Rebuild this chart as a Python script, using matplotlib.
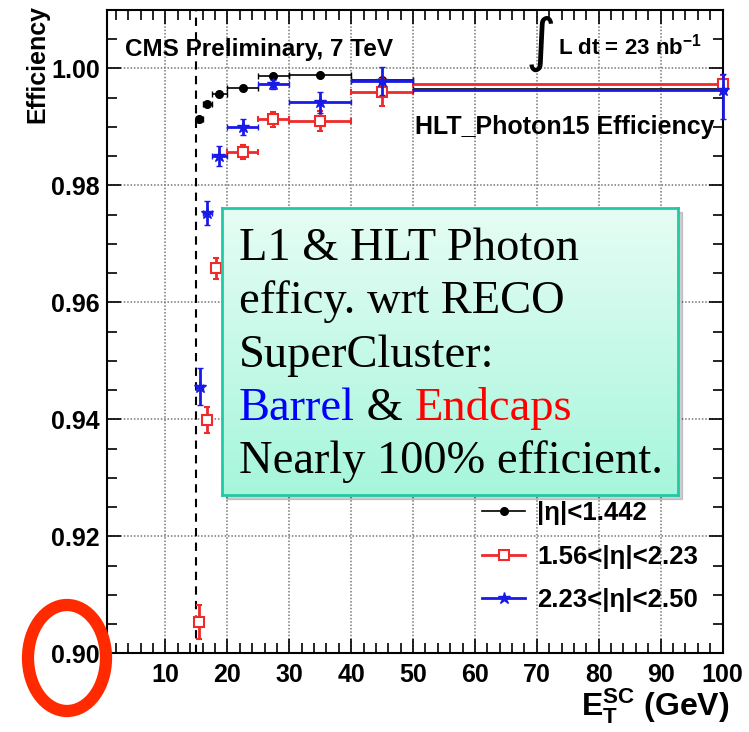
import numpy as np
import matplotlib
import matplotlib.pyplot as plt
from matplotlib.lines import Line2D
from matplotlib.patches import Ellipse, Rectangle
from matplotlib.colors import LinearSegmentedColormap

plt.rcParams['font.family'] = ['Liberation Sans', 'DejaVu Sans']
plt.rcParams['font.weight'] = 'bold'
plt.rcParams['mathtext.fontset'] = 'custom'
plt.rcParams['mathtext.rm'] = 'Liberation Sans:bold'
plt.rcParams['mathtext.it'] = 'Liberation Sans:bold'
plt.rcParams['mathtext.bf'] = 'Liberation Sans:bold'

# bins in E_T^SC (GeV)
bin_lo = [15, 16, 17.5, 20, 25, 30, 40, 50]
bin_hi = [16, 17.5, 20, 25, 30, 40, 50, 150]

# |eta| < 1.442
x_eb = [15.4, 16.7, 18.6, 22.5, 27.4, 34.9, 45.0, 100.0]
eff_eb = [0.9913, 0.9940, 0.9957, 0.9966, 0.9987, 0.9988, 0.9980, 0.9965]
err_eb = [0.0004, 0.0003, 0.0003, 0.0002, 0.0002, 0.0002, 0.0002, 0.0002]

# 1.56 < |eta| < 2.23
x_ee1 = [15.4, 16.7, 18.1, 22.5, 27.4, 34.9, 45.0, 100.0]
eff_ee1 = [0.9053, 0.9399, 0.9658, 0.9857, 0.9913, 0.9910, 0.9959, 0.9973]
err_ee1 = [0.0029, 0.0022, 0.0018, 0.0012, 0.0013, 0.0017, 0.0023, 0.0015]

# 2.23 < |eta| < 2.50
x_ee2 = [15.5, 16.7, 18.6, 22.5, 27.4, 34.9, 45.0, 100.0]
eff_ee2 = [0.9456, 0.9753, 0.9850, 0.9900, 0.9973, 0.9942, 0.9979, 0.9964]
err_ee2_lo = [0.0032, 0.0021, 0.0017, 0.0014, 0.0008, 0.0018, 0.0024, 0.0051]
err_ee2_hi = [0.0032, 0.0021, 0.0017, 0.0014, 0.0008, 0.0018, 0.0024, 0.0026]

labels = ['|η|<1.442', '1.56<|η|<2.23', '2.23<|η|<2.50']

W, H = 749, 732
def fx(px): return px / W
def fy(py): return 1 - py / H

fig = plt.figure(figsize=(W / 100, H / 100), dpi=100)
ax = fig.add_axes([fx(106.7), fy(653.3), fx(722.5) - fx(106.7), fy(10) - fy(653.3)])
XMAX = 100

def xerrs(x):
    lo = [xi - l for xi, l in zip(x, bin_lo)]
    hi = [min(h, XMAX) - xi for xi, h in zip(x, bin_hi)]
    return [lo, hi]

red = '#ee2a2a'
blue = '#1a1ae6'

ax.errorbar(x_eb, eff_eb, xerr=xerrs(x_eb), yerr=err_eb, fmt='o', color='k',
            ms=5.5, elinewidth=1.2, capsize=2, clip_on=False, zorder=3)
ax.errorbar(x_ee1, eff_ee1, xerr=xerrs(x_ee1), yerr=err_ee1, fmt='s', color=red,
            mfc='white', mec=red, mew=1.5, ms=7, elinewidth=2, capsize=2,
            clip_on=False, zorder=4)
ax.errorbar(x_ee2, eff_ee2, xerr=xerrs(x_ee2), yerr=[err_ee2_lo, err_ee2_hi],
            fmt='*', color=blue, ms=9, elinewidth=2, capsize=2,
            clip_on=False, zorder=5)

ax.axvline(15, color='k', ls=(0, (4, 3)), lw=1.5, zorder=2)

ax.set_xlim(0.5, XMAX)
ax.set_ylim(0.90, 1.01)
ax.set_xticks(np.arange(10, 101, 10))
ax.set_xticks(np.arange(2, 101, 2), minor=True)
ax.set_yticks([0.90, 0.92, 0.94, 0.96, 0.98, 1.00])
ax.set_yticks(np.arange(0.90, 1.0101, 0.005), minor=True)
ax.yaxis.set_major_formatter(matplotlib.ticker.FormatStrFormatter('%.2f'))
ax.tick_params(which='both', direction='in', top=True, right=True, width=1.2)
ax.tick_params(which='major', length=10, labelsize=18)
ax.tick_params(which='minor', length=7)
ax.tick_params(axis='x', pad=7)
ax.tick_params(axis='y', pad=5)
for s in ax.spines.values():
    s.set_linewidth(1.5)
ax.grid(True, which='major', color='#777777', ls=(0, (1, 1.2)), lw=1.1, zorder=1)

fig.text(fx(37), fy(5), 'Efficiency', rotation=90, ha='center', va='top', fontsize=18)
fig.text(fx(729), fy(716), r'$\mathrm{E}_{\mathrm{T}}^{\mathrm{SC}}$ (GeV)', ha='right',
         va='baseline', fontsize=23)

fig.text(fx(125), fy(56), 'CMS Preliminary, 7 TeV', fontsize=17.5, va='baseline')
fig.text(fx(526), fy(60), '∫', fontsize=42, family='DejaVu Sans', fontweight='normal',
         va='baseline')
fig.text(fx(558), fy(54), 'L dt = 23 nb$^{\\mathrm{-1}}$', fontsize=16, va='baseline')
fig.text(fx(415), fy(134), 'HLT_Photon15 Efficiency', fontsize=18, va='baseline')

handles = [
    Line2D([], [], color='k', marker='o', ms=5.5, lw=1.2),
    Line2D([], [], color=red, marker='s', mfc='white', mec=red, mew=1.5, ms=7, lw=2),
    Line2D([], [], color=blue, marker='*', ms=9, lw=2),
]
ax.legend(handles, labels, loc='upper left', bbox_to_anchor=(0.609, 0.236),
          frameon=False, fontsize=18.5, handlelength=1.7, handletextpad=0.45,
          labelspacing=0.75, borderpad=0, borderaxespad=0)

# annotation box
bx0, by0, bx1, by1 = 221.7, 208.3, 678.3, 495
fig.patches.append(Rectangle((fx(bx0 + 4), fy(by1 + 4)), fx(bx1) - fx(bx0), fy(by0) - fy(by1),
                             transform=fig.transFigure, color='#000000', alpha=0.18,
                             zorder=4))
box = fig.add_axes([fx(bx0), fy(by1), fx(bx1) - fx(bx0), fy(by0) - fy(by1)], zorder=5)
cmap = LinearSegmentedColormap.from_list('mint', ['#a6f6dc', '#e6fdf4'])
box.imshow(np.linspace(0, 1, 256).reshape(-1, 1), cmap=cmap, aspect='auto',
           extent=[0, 1, 0, 1], origin='lower')
box.set_xticks([])
box.set_yticks([])
for s in box.spines.values():
    s.set_color('#22c9a6')
    s.set_linewidth(2)

serif = ['Liberation Serif', 'DejaVu Serif']
tkw = dict(fontsize=33.5, family=serif, fontweight='normal', zorder=6)
x0 = fx(239)
fig.text(x0, fy(260), 'L1 & HLT Photon', va='baseline', **tkw)
fig.text(x0, fy(313.3), 'efficy. wrt RECO', va='baseline', **tkw)
fig.text(x0, fy(366.6), 'SuperCluster:', va='baseline', **tkw)
t1 = fig.text(x0, fy(420), 'Barrel', color='#0000ff', va='baseline', **tkw)
t2 = box.annotate(' & ', xy=(1, 0), xycoords=t1, va='bottom',
                  annotation_clip=False, **tkw)
box.annotate('Endcaps', xy=(1, 0), xycoords=t2, color='#ff0000', va='bottom',
             annotation_clip=False, **tkw)
fig.text(x0, fy(473), 'Nearly 100% efficient.', va='baseline', **tkw)

fig.patches.append(Ellipse((fx(67), fy(658)), 78 / W, 106 / H, transform=fig.transFigure,
                           fill=False, ec='#ff2a00', lw=8.8, zorder=10))

fig.savefig('out.png', dpi=100)
